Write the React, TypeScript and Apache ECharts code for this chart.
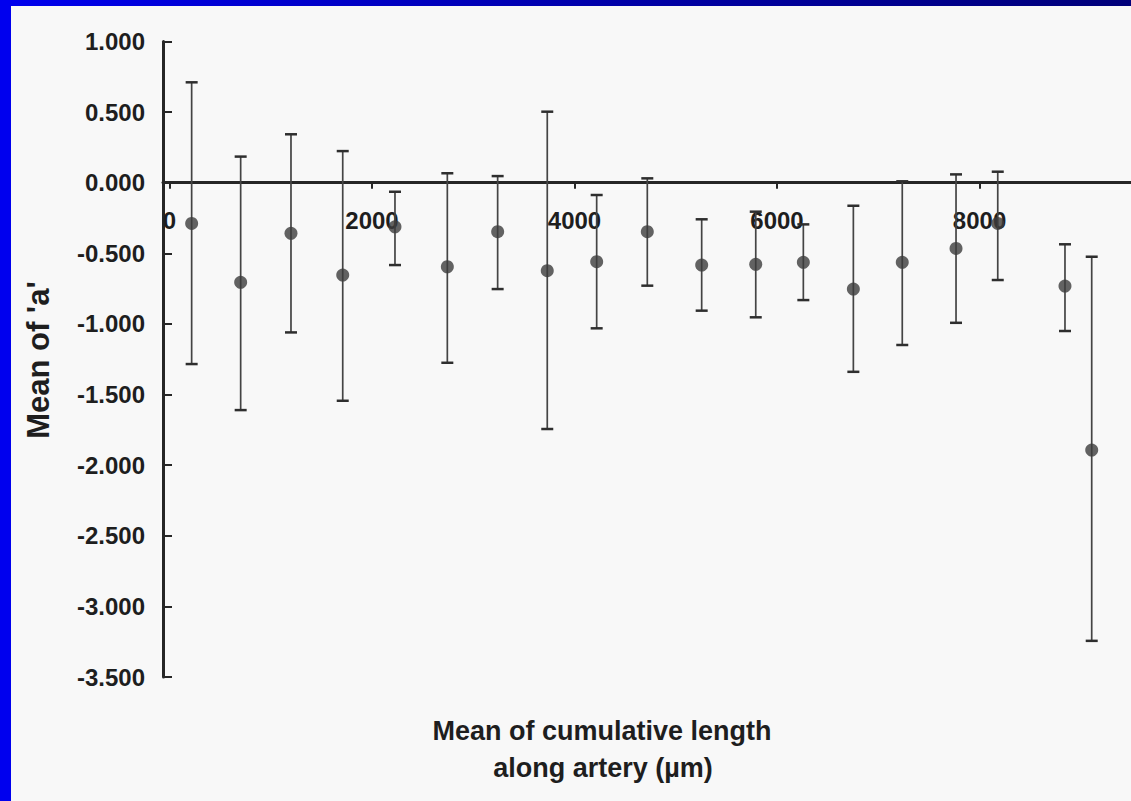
import React, { useEffect, useRef } from "react";
import * as echarts from "echarts";

// Mean cumulative length along artery (µm)
const xValues = [219, 703, 1200, 1711, 2227, 2744, 3241, 3731, 4219, 4719, 5256, 5790, 6260, 6754, 7237, 7768, 8180, 8844, 9108];
// Mean of 'a'
const means = [-0.288, -0.705, -0.358, -0.654, -0.312, -0.595, -0.347, -0.623, -0.559, -0.347, -0.583, -0.578, -0.564, -0.753, -0.564, -0.465, -0.288, -0.732, -1.893];
// error bar upper ends
const uppers = [0.711, 0.185, 0.343, 0.224, -0.064, 0.067, 0.047, 0.503, -0.087, 0.031, -0.259, -0.205, -0.295, -0.163, 0.01, 0.059, 0.078, -0.436, -0.524];
// error bar lower ends
const lowers = [-1.284, -1.61, -1.06, -1.544, -0.583, -1.275, -0.753, -1.744, -1.031, -0.729, -0.906, -0.953, -0.831, -1.339, -1.149, -0.992, -0.689, -1.05, -3.244];

const xTickValues = [0, 2000, 4000, 6000, 8000];
const yMin = -3.5;
const yMax = 1;
const yTitle = "Mean of 'a'";
const xTitleLines = ["Mean of cumulative length", "along artery (µm)"];

const FONT = "'Liberation Sans', Arial, sans-serif";
const INK = "#1e1e1e";

export default function App() {
  const ref = useRef<HTMLDivElement>(null);

  useEffect(() => {
    if (!ref.current) return;
    const chart = echarts.init(ref.current, null, { renderer: "svg" });

    const gridTop = 41.5;
    const gridBottom = 124;
    const gridH = 801 - gridTop - gridBottom;
    // move the x axis (line, ticks, labels) up to where y = 0
    const zeroOffset = -(gridH * (0 - yMin)) / (yMax - yMin);

    const scatterData = xValues.map((x, i) => [x, means[i]]);
    const errData = xValues.map((x, i) => [x, lowers[i], uppers[i]]);

    const option: any = {
      animation: false,
      backgroundColor: "#f8f8f8",
      grid: { left: 163, right: 0, top: gridTop, bottom: gridBottom, outerBoundsMode: "none" },
      xAxis: {
        type: "value",
        position: "bottom",
        offset: zeroOffset,
        min: -64,
        max: 9496,
        z: 1,
        axisLine: { onZero: false, lineStyle: { color: "#262626", width: 3 } },
        axisTick: { show: true, customValues: xTickValues, length: 6, lineStyle: { color: "#262626", width: 2 } },
        axisLabel: {
          customValues: xTickValues,
          margin: 26,
          fontSize: 24,
          fontWeight: "bold",
          fontFamily: FONT,
          color: INK,
          formatter: (v: number) => String(v),
        },
        splitLine: { show: false },
      },
      yAxis: {
        type: "value",
        min: yMin,
        max: yMax,
        interval: 0.5,
        axisLine: { show: true, onZero: false, lineStyle: { color: "#262626", width: 3 } },
        axisTick: { show: true, inside: true, length: 9, lineStyle: { color: "#262626", width: 2 } },
        axisLabel: {
          margin: 18,
          fontSize: 24,
          fontWeight: "bold",
          fontFamily: FONT,
          color: INK,
          formatter: (v: number) => v.toFixed(3),
        },
        splitLine: { show: false },
      },
      series: [
        {
          type: "custom",
          data: errData,
          encode: { x: 0, y: [1, 2] },
          clip: false,
          z: 3,
          renderItem: (params: any, api: any) => {
            const x = api.value(0);
            const lo = api.coord([x, api.value(1)]);
            const hi = api.coord([x, api.value(2)]);
            const half = 6;
            const st = { stroke: "#444", lineWidth: 1.7 };
            const cap = { stroke: "#2e2e2e", lineWidth: 2.5 };
            return {
              type: "group",
              children: [
                { type: "line", shape: { x1: hi[0], y1: hi[1], x2: lo[0], y2: lo[1] }, style: st },
                { type: "line", shape: { x1: hi[0] - half, y1: hi[1], x2: hi[0] + half, y2: hi[1] }, style: cap },
                { type: "line", shape: { x1: lo[0] - half, y1: lo[1], x2: lo[0] + half, y2: lo[1] }, style: cap },
              ],
            };
          },
        },
        {
          type: "scatter",
          data: scatterData,
          symbol: "circle",
          symbolSize: 13,
          z: 4,
          itemStyle: { color: "#3c3c3c" },
        },
      ],
      graphic: [
        {
          type: "rect",
          z: 100,
          shape: { x: 0, y: 0, width: 1131, height: 6 },
          style: {
            fill: new echarts.graphic.LinearGradient(0, 0, 1, 0, [
              { offset: 0, color: "#0000ee" },
              { offset: 0.55, color: "#0000a8" },
              { offset: 1, color: "#00007a" },
            ]),
          },
        },
        {
          type: "rect",
          z: 100,
          shape: { x: 0, y: 0, width: 11, height: 801 },
          style: { fill: "#0000ee" },
        },
        {
          type: "text",
          z: 50,
          x: 38,
          y: 360,
          rotation: Math.PI / 2,
          style: {
            text: yTitle,
            fontSize: 31,
            fontWeight: "bold",
            fontFamily: FONT,
            fill: INK,
            align: "center",
            verticalAlign: "middle",
          },
        },
        {
          type: "text",
          z: 50,
          x: 602,
          y: 731,
          style: {
            text: xTitleLines[0],
            fontSize: 27,
            fontWeight: "bold",
            fontFamily: FONT,
            fill: INK,
            align: "center",
            verticalAlign: "middle",
          },
        },
        {
          type: "text",
          z: 50,
          x: 603,
          y: 768,
          style: {
            text: xTitleLines[1],
            fontSize: 27,
            fontWeight: "bold",
            fontFamily: FONT,
            fill: INK,
            align: "center",
            verticalAlign: "middle",
          },
        },
      ],
    };

    chart.setOption(option);
    return () => chart.dispose();
  }, []);

  return (
    <div
      ref={ref}
      style={{ position: "fixed", left: 0, top: 0, width: 1131, height: 801 }}
    />
  );
}
